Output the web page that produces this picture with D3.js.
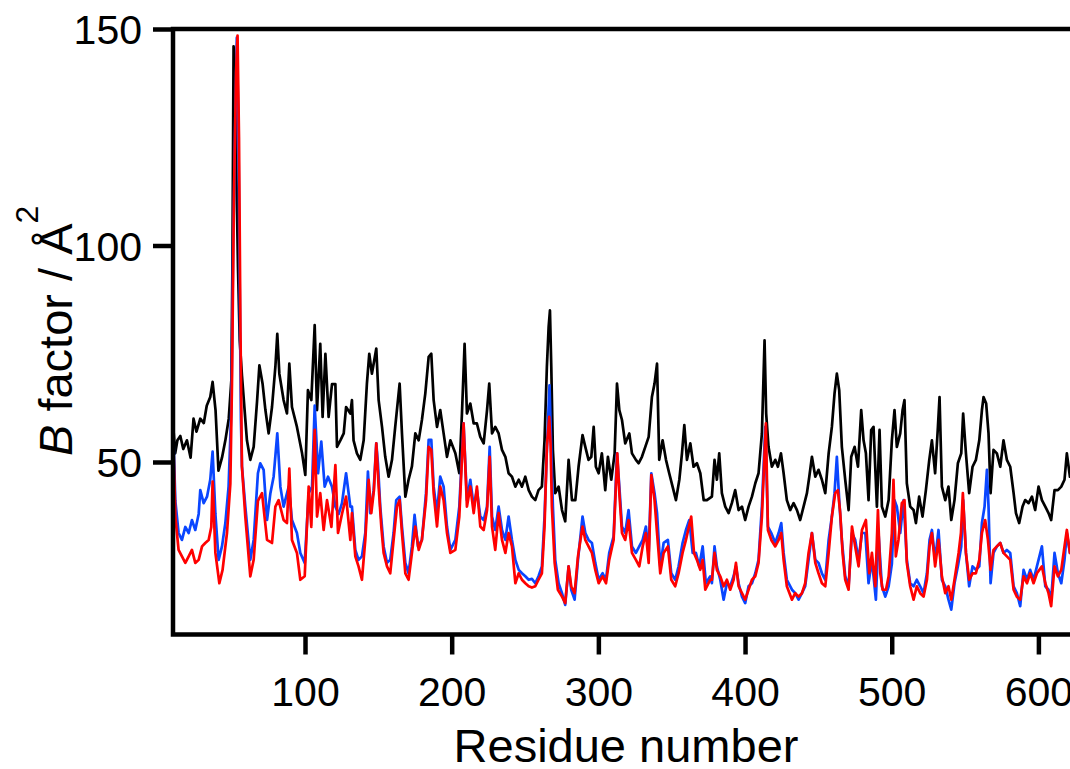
<!DOCTYPE html>
<html>
<head>
<meta charset="utf-8">
<script src="https://cdn.jsdelivr.net/npm/d3@7"></script>
<style>
  html, body { margin: 0; padding: 0; background: #fff; }
  svg { display: block; }
  text { font-family: "Liberation Sans", Arial, sans-serif; fill: #000; }
</style>
</head>
<body>
<svg id="chart" width="1070" height="769"></svg>
<script>
// ---- data (residue, B factor) ----
const residueTicks = [100, 200, 300, 400, 500, 600];
const bFactorTicks = [50, 100, 150];

const seriesBlack = [
[10,59],[11.5,52],[13,55],[15,56],[17,53],[19.5,55],[22,51],[24,60],[26,57],[28.6,60],[31,59],[33,63],[35.4,65],[37,68.5],[39,62],[41,48],[43.4,51],[45.7,55],[48,60],[49.8,69],[50.5,95],[51.3,146],[52.3,140],[53.3,115],[54.3,95],[55.5,78],[57,70],[60.4,55],[62.7,50.5],[65,53.5],[67.3,64],[68.9,72.3],[71.1,68],[73,62],[75.2,56.6],[77.5,62.7],[79.8,72],[81.1,79.6],[82.5,70.4],[85.4,64.3],[87.7,61.2],[89.3,72.7],[91.1,62.7],[94.5,58.1],[98,52],[100.2,47],[102,66.6],[104.3,64.3],[106.6,81.6],[108.2,62],[110.4,77.3],[112,60.4],[113.9,75],[116.1,60.4],[118.4,68],[120.7,68],[121.8,53.5],[124.1,55],[126.4,56.6],[128,62.7],[130.9,61.2],
[132,64.3],[133.1,55],[135.4,52],[137.7,50.5],[140,55],[142.2,68.1],[143.8,75],[145.6,70.4],[146.8,72.7],[148.6,76.2],[150.2,64.3],[152.5,58.1],[154.7,51.2],[157,46.6],[159.3,50.5],[161.5,58.1],[164.5,68.1],[166.1,56.6],[168.4,42],[170.6,45.9],[172.9,49],[175.2,56.6],[177.5,55],[179.7,59.7],[182,65.8],[184.3,74.3],[186.1,75],[187.7,64.3],[190,58.1],[192.2,62],[194.5,56.6],[196.8,51.2],[199.1,55],[202.5,52],[205.2,47.4],[207,61.2],[208.8,77.3],[210.4,61.2],[212.7,63.5],[215,58.9],[217.2,58.9],[219.5,55.8],[221.8,54.3],[224.1,62],[225.6,68.1],[227.5,56.6],[229.7,58.1],[232,56.6],[234.3,52.8],[236.6,51.2],[238.8,47.4],[241.1,46.6],[243.4,44.3],[245.7,45.9],[247.9,44.3],[250.2,46.6],[252.5,43.5],
[254.7,42],[257,41.2],[259.2,43.5],[261.5,44.3],[263.3,55],[264.9,72],[266.1,81.2],[267,85],[267.9,72],[269,52.8],[270.6,42.8],[272.9,44.3],[275.2,38.9],[277.4,36.3],[279.7,50.5],[282,41.2],[284.3,41.2],[286.5,48.9],[289.2,56.2],[291.1,53.5],[293.3,50.5],[295.2,51.2],[296.8,58.1],[298.3,48.9],[300.2,47.4],[302.4,52],[304.7,43.5],[306.5,51.2],[308.8,45.9],[311.1,52],[312.7,68.1],[314.3,62],[316.1,59.7],[318.3,54.3],[321.1,56.6],[322.9,52],[325.6,50.5],[327.4,49.7],[329.7,51.2],[332,53.5],[334.3,55.8],[336.5,65],[338.3,68.1],[340,72.7],[341.5,50.5],[343.8,55],[346.1,50.5],[348.3,47.4],[350.6,44.3],[352.9,41.2],[355.2,45.9],[357,52],[358.6,58.5],[360.4,50.5],[362.7,54.3],[364.9,48.9],[367.2,49.7],[369.5,47.4],[371.8,41.2],[374,41.2],
[377.4,42],[379.2,50.5],[380.8,45.9],[382.4,52],[384.2,42.8],[386.5,39.7],[388.8,38.2],[391,40.5],[393.3,43.5],[395.6,38.9],[397.9,39.7],[400.1,36.6],[402.4,39.7],[404.7,42],[407,45.1],[409.2,47.4],[411.5,56.6],[413.3,78.1],[414.4,61.2],[416,53.5],[418.3,48.9],[420.6,50.5],[422.4,48.9],[424.5,52],[426.3,47.4],[428.5,41.2],[430.8,38.9],[433.1,40.5],[435.4,38.9],[437.6,36.6],[439.9,39.7],[442.2,42.8],[443.8,46.6],[445.6,51.2],[447.9,46.6],[450.1,48.2],[452.4,45.9],[454.7,42.8],[457,52],[459.2,58.1],[461,65.8],[462.6,70.4],[464.2,66.6],[466,53.5],[468.3,45.9],[470.6,38.9],[472.4,51.2],[474.7,53.5],[477,48.9],[479.2,62],[480.8,55],[482.4,52],[484.2,41.2],[486,57.4],[487.6,58.1],[489.9,39.7],[491.7,57.4],[493.3,39.7],[495.6,37.4],[497.9,41.2],
[500.1,55],[501.9,62],[503.5,53.5],[505.8,56.6],[507.4,62],[508.7,64.3],[510.3,45.1],[512.6,39.7],[514.9,38.9],[516.5,35.9],[518.7,42],[521,37.4],[523.3,43.5],[525.6,50.5],[527.4,55],[529.6,47.4],[531.5,58.1],[532.6,65],[534.2,44.3],[536.5,41.2],[538.7,44.3],[540.6,36.6],[542.8,41.2],[545.1,49.7],[547.4,52],[548.7,61.2],[550.6,52],[552.8,42.8],[555.1,48.9],[557.4,50.5],[559.7,55],[561.5,62],[562.6,65],[564.4,63.5],[566,56.6],[567.4,42.8],[569.4,52.8],[571.7,52],[574,48.9],[576.2,55],[578.5,50.5],[580.8,48.9],[583.1,42.8],[584.7,38.2],[586.9,35.9],[589.2,39.7],[591,41.2],[593.3,40.5],[595.6,42],[597.8,38.9],[600.1,44.3],[602.4,41.2],[604.7,39.7],[606.9,38.2],[608.7,36.6],[611,43.5],[613.3,43.5],[615.6,44.3],[617.8,45.9],[619.4,52],[621.5,46.6],[625,47]
];

const seriesBlue = [
[10,59],[11.6,41],[13.8,33.6],[16.1,32],[18.4,35],[20.7,33.6],[22.9,36.6],[25.2,34.3],[27.5,38],[28.6,43.5],[30.9,40.5],[33.2,42],[35.4,45.9],[37,52.4],[38.9,38],[41.1,27.4],[43.4,30.5],[45.7,35.9],[47.9,44.3],[49.8,62.7],[51,100],[52.5,130],[53.5,148],[54.5,130],[55.5,90],[56.3,60],[57,49],[59.3,39.7],[62.7,27.4],[65,32],[67.9,47.4],[69.5,49.7],[71.8,48.2],[74.1,36.6],[76.4,42.8],[78.6,46.6],[81.1,56.6],[83.2,44.3],[85.4,39.7],[88.9,44.3],[91.1,36.6],[94.5,33.6],[96.8,29],[99.8,26.7],[102.5,42.8],[104.8,44.3],[106.6,63],[108.9,47.4],[111.1,54.7],[113.4,44.3],[115.7,46.6],[118.4,44.3],[120.7,39.7],[123,38],[125.2,40.5],[128,47.4],[130.9,39.7],
[132,39.7],[134.3,29.7],[136.5,27.4],[138.8,28.2],[141.1,33.6],[142.9,47.8],[144.5,38.2],[146.8,43.5],[148.6,54.3],[149.7,49.7],[151.3,39.7],[153.6,30.5],[155.9,26.7],[158.1,27.4],[160.4,33.6],[162.2,41.2],[164.5,42],[166.1,35.1],[168.4,26.7],[170.6,24.3],[172.9,30.5],[174.7,37.8],[177,30.5],[179.7,32],[182.5,42.8],[184.3,55.1],[186.1,55.1],[187.7,44.3],[190,38.2],[192.2,46.6],[194.5,44.3],[196.8,35.1],[199.1,29.7],[202.5,32],[205.2,39.7],[208.1,58.9],[210.4,41.2],[212.7,45.9],[215,39.7],[217.2,43.5],[219.5,37.4],[221.8,36.6],[224.1,39.7],[225.9,53.5],[227.5,37.4],[229.7,34.3],[232,39.7],[234.3,34.3],[236.6,32],[238.8,37.4],[241.1,32],[243.4,27.4],[245.7,25.1],[247.9,24.3],[250.2,23.6],[252.5,22.8],
[254.7,23],[257,22],[259.2,23.6],[261.5,25.9],[263.3,37.4],[264.9,52.8],[266.7,67.7],[267.9,52.8],[269,39.7],[270.6,27.4],[272.9,22],[275.2,19.7],[277.4,17],[279.7,25.9],[281.5,20.5],[283.8,18.2],[286.1,27.4],[289.2,37.4],[291.1,33.6],[293.3,32],[295.6,31.3],[297.9,26.7],[300.2,22.8],[302.9,24.3],[305.2,22.8],[307.4,29],[310.4,32.8],[312.7,52],[314.3,44.3],[316.1,35.1],[318.3,33.6],[320.6,38.9],[322.9,30.5],[325.6,29],[327.9,30.5],[330.2,32],[332.4,35.1],[334.3,29],[336.1,47.4],[338.3,42.8],[340,38.2],[342.2,25.9],[344.5,31.3],[347.4,32],[349.7,24.3],[352.4,22.8],[354.7,25.9],[357.4,31.3],[359.7,34.3],[362,36.6],[364.3,29],[366.5,29],[368.8,25.9],[371.1,30.5],[373.3,22],[376.3,23.6],
[377.4,22],[379.2,30.5],[380.8,25.9],[383.1,22.8],[385.4,18.2],[387.6,22],[389.9,21.3],[392.2,23.6],[393.8,25.9],[395.6,22],[397.9,18.9],[400.1,17.4],[402.4,21.3],[404.7,22],[407,24.3],[409.2,27.4],[411.5,39.7],[413.8,58.1],[415.6,35.1],[417.9,33.6],[420.6,31.3],[422.9,33.6],[424.7,35.9],[426.3,29],[428.5,22.8],[432,20.5],[434.2,19.7],[436.5,18.2],[438.8,19.7],[441,21.3],[443.3,27.4],[445.6,33.6],[447.9,27.4],[450.1,26.7],[452.4,24.3],[454.7,22.8],[457,32],[459.2,37.4],[461,42.8],[462.6,51.2],[464.2,41.2],[466,32],[468.3,23.6],[470.6,21.3],[472.9,33.6],[475.1,32],[477.4,27.4],[479.7,33.6],[482,33.6],[484.2,22],[486.5,27.4],[489.2,18.2],[491,33.6],[493.3,21.3],[495.6,18.9],[497.9,21.3],
[500.1,26.5],[501.9,41.2],[503.5,39.7],[505.8,33.6],[508.1,41.2],[510.3,27.4],[512.6,22],[514.9,21.3],[517.1,22.8],[519.4,21.3],[521.7,19.7],[524,24.3],[525.8,32],[527.4,34.3],[529.6,27.4],[531.9,34.3],[534.2,22.8],[536.5,21.3],[538.7,18.2],[540.6,15.9],[542.8,22],[545.1,25.9],[547.4,30.5],[548.7,41.2],[550.6,29],[552.8,21.3],[555.1,25.9],[557.4,25.1],[559.7,25.9],[561.5,35.9],[563.3,39.7],[564.9,48.2],[566,39.7],[567.4,22],[569.4,29],[571.7,30.5],[574,31.3],[576.2,29],[578.5,29.7],[580.8,29],[583.1,21.3],[585.3,19.7],[587.6,16.7],[589.9,25.1],[592.2,22.8],[594.4,25.1],[596.7,22.8],[599,25.9],[602.4,30.5],[604.7,21.3],[606.9,20.5],[608.7,18.2],[611,29],[613.3,24.3],[615.6,22],[617.8,27.4],[619.4,33.6],[621.5,29],[625,30]
];

const seriesRed = [
[10,57.4],[11.6,37.4],[13.8,29.7],[16.1,28.2],[18.4,26.7],[20.7,28.2],[22.9,29.7],[25.2,26.7],[27.5,27.4],[29.8,30.5],[32,31.3],[34.3,32],[36.1,35],[37,45.5],[38.9,29],[41.6,22],[43.8,25.1],[46.8,33.6],[49.1,45],[50.2,68],[51.5,110],[53,140],[54,148.5],[55,125],[56,80],[57,49],[59.3,37.4],[62.7,23.6],[65,27.4],[67.9,41],[70.7,42.8],[74.1,32],[77.5,31.3],[79.8,39.7],[82,41.2],[85.4,36.6],[87.7,35.9],[89.3,48.5],[91.1,32],[94.5,29],[96.8,22.8],[99.8,23.6],[102.5,44.3],[104.3,35],[106.6,57.4],[108.2,37.4],[110.4,42.8],[112.7,34.3],[115,41.2],[118,35],[120.7,49.3],[122.5,33.6],[125.2,38],[128,42],[130.9,32],
[132,38.2],[134.3,28.2],[136.5,25.9],[138.8,22.8],[141.1,32],[143.4,45.9],[145.2,38.2],[147,43.5],[148.6,54.3],[150.2,44.3],[152,35.1],[153.6,29],[155.9,25.9],[158.1,24.3],[160.4,32],[162.7,39.7],[164.5,41.2],[166.1,33.6],[168.4,24.3],[170.6,22.8],[172.9,29],[175.2,35.1],[177.5,29.7],[179.7,32],[182.5,41.2],[184.3,53.5],[186.1,52.8],[187.7,42.8],[190,35.1],[192.2,44.3],[194.5,41.2],[196.8,33.6],[199.1,29],[202.5,29.7],[205.2,37.4],[208.1,58.9],[210.4,39.7],[212.7,44.3],[215,38.2],[217.2,44.3],[219.5,35.1],[221.8,34.3],[224.1,38.9],[225.9,51.2],[227.5,35.1],[229.7,29.7],[232,38.2],[234.3,32],[236.6,29],[238.8,33.6],[241.1,30.5],[243.4,22],[245.7,24.3],[247.9,22.8],[250.2,22],[252.5,21.3],
[254.7,21],[257,21.3],[259.2,22.8],[261.5,24.3],[263.3,35.1],[264.9,53.5],[266.5,60.4],[267.4,54.3],[268.3,39.7],[270.2,26.7],[272.4,20.5],[275.2,18.9],[277.4,17.4],[279.7,25.9],[281.5,21.3],[283.8,19.7],[286.1,28.2],[289.2,35.1],[291.1,32],[293.3,30.5],[295.6,29],[297.9,25.1],[300.2,22],[302.9,23.6],[305.2,22],[307.4,27.4],[310.4,32],[312.9,52],[314.3,42.8],[316.1,33.6],[318.3,32],[320.6,36.6],[322.9,29],[325.6,27.4],[327.9,25.9],[330.2,30.5],[332.4,33.6],[334.3,26.7],[336.1,47],[338.3,41.2],[340,33.6],[342.2,24.3],[344.5,29],[347.4,30.5],[349.7,22.8],[352.4,21.3],[354.7,24.3],[357.4,29],[359.7,32],[363.3,37.4],[365.2,29],[367.2,27.4],[369.5,25.1],[371.1,27.4],[372.9,20.5],[376.3,22.8],
[377.4,22.8],[379.2,29],[380.8,25.1],[383.1,23.6],[385.4,21.3],[387.6,22.8],[389.9,20.5],[392.2,22.8],[393.8,26.7],[395.6,21.3],[397.9,19.7],[400.1,18.2],[402.4,20.5],[404.7,22.8],[407,23.6],[409.2,26.7],[411.5,37.4],[414.2,58.9],[415.6,34.3],[417.9,32],[420.6,30.5],[422.9,32],[424.7,33.6],[426.3,27.4],[428.5,21.3],[432,18.2],[434.2,19.7],[436.5,18.9],[438.8,19.7],[441,22],[443.3,29],[445.6,33.6],[447.9,26.7],[450.1,24.3],[452.4,22],[454.7,21.3],[457,29],[459.2,37.4],[461.5,42.8],[463.3,43.5],[464.9,38.2],[466.5,29],[468.3,22.8],[470.6,20.5],[472.9,35.1],[475.1,30.5],[477.4,25.9],[479.7,34.3],[482.4,36.6],[484.7,24.3],[486.5,29],[488.8,21.3],[490.6,38.9],[492.2,24.3],[493.8,20.5],[496.1,20.5],[497.9,23.6],
[500.1,33.6],[501.2,45.9],[502.8,28.2],[504.6,32],[506.9,40.5],[508.7,41.2],[510.3,26.7],[512.6,21.3],[514.9,18.2],[517.1,21.3],[519.4,19.7],[521.7,18.9],[524,22.8],[525.8,30.5],[527.4,33.6],[529.6,25.9],[531.9,32],[534.2,23.6],[536.5,19.7],[538.7,21.3],[540.6,18.2],[542.8,22.8],[545.6,29],[547.2,33.6],[548.5,42.8],[550.6,29],[552.8,22.8],[555.1,24.3],[557.4,24.3],[559.7,27.4],[561.5,33.6],[563.7,36.6],[565.6,32],[567.4,25.1],[569.4,29.7],[571.7,30.5],[574,31.3],[576.2,29],[578.5,28.2],[580.8,27.4],[583.1,20.5],[585.3,18.9],[587.6,18.2],[589.9,23.6],[592.2,22],[594.4,24.3],[596.7,22],[599,24.3],[602.4,25.9],[604.7,22],[606.9,19.7],[608.7,16.7],[611,25.9],[613.3,23.6],[615.6,25.1],[617.8,30.5],[619.4,34.3],[621.5,29],[625,30]
];

// ---- drawing ----
const svg = d3.select("#chart");
const x = d3.scaleLinear().domain([10, 630]).range([173, 1082.4]);
const y = d3.scaleLinear().domain([10.16, 150]).range([634.5, 29]);

const line = d3.line().x(d => x(d[0])).y(d => y(d[1]));

const series = [
  { data: seriesBlack, color: "#000000" },
  { data: seriesBlue,  color: "#0a46ff" },
  { data: seriesRed,   color: "#ff0000" }
];
svg.append("g").selectAll("path").data(series).join("path")
  .attr("d", d => line(d.data))
  .attr("fill", "none")
  .attr("stroke", d => d.color)
  .attr("stroke-width", 2.7)
  .attr("stroke-linejoin", "round");

// frame (left, top, bottom)
svg.append("path")
  .attr("d", `M${x.range()[1]},${y(150)}H${x(10)}V${y.range()[0]}H${x.range()[1]}`)
  .attr("fill", "none").attr("stroke", "#000").attr("stroke-width", 4.5)
  .attr("stroke-linejoin", "miter");

// axes
const xAxis = d3.axisBottom(x).tickValues(residueTicks).tickSize(20).tickSizeOuter(0).tickPadding(22);
const gx = svg.append("g").attr("transform", `translate(0,${y.range()[0]})`).call(xAxis);
const yAxis = d3.axisLeft(y).tickValues(bFactorTicks).tickSize(20).tickSizeOuter(0).tickPadding(11);
const gy = svg.append("g").attr("transform", `translate(${x(10)},0)`).call(yAxis);

[gx, gy].forEach(g => {
  g.select(".domain").remove();
  g.selectAll(".tick line").attr("stroke", "#000").attr("stroke-width", 4.5);
  g.selectAll(".tick text")
    .style("font-family", '"Liberation Sans", Arial, sans-serif')
    .style("font-size", "41px").attr("fill", "#000");
});
gy.selectAll(".tick text").attr("dy", "0.36em");

// axis titles
svg.append("text")
  .attr("x", 626).attr("y", 762)
  .attr("text-anchor", "middle")
  .style("font-size", "47px")
  .text("Residue number");

const yt = svg.append("text")
  .attr("transform", "translate(72,456) rotate(-90)")
  .attr("text-anchor", "start")
  .style("font-size", "47px");
yt.append("tspan").style("font-style", "italic").text("B");
yt.append("tspan").text(" factor / Å");
yt.append("tspan").attr("dy", -34).style("font-size", "32px").text("2");
</script>
</body>
</html>
